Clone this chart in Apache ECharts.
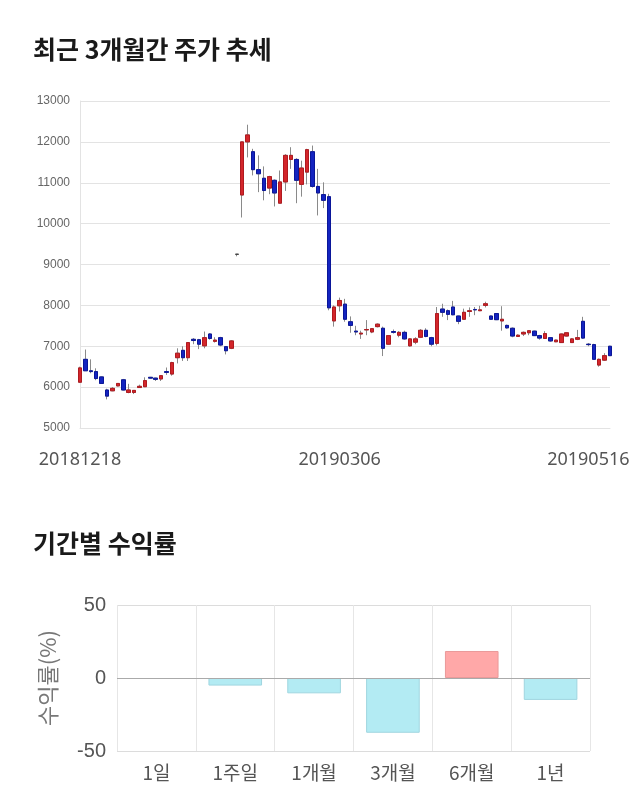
<!DOCTYPE html>
<html><head><meta charset="utf-8">
<script src="https://cdn.jsdelivr.net/npm/echarts@6/dist/echarts.min.js"></script>
<style>html,body{margin:0;padding:0;background:#fff}#c{width:640px;height:810px}</style>
</head><body><div id="c"></div>
<script>
const dates=['20181218','20181219','20181220','20181221','20181224','20181226','20181227','20181228',
'20190102','20190103','20190104','20190107','20190108','20190109','20190110','20190111','20190114','20190115',
'20190116','20190117','20190118','20190121','20190122','20190123','20190124','20190125','20190128','20190129',
'20190130','20190131','20190201','20190207','20190208','20190211','20190212','20190213','20190214','20190215',
'20190218','20190219','20190220','20190221','20190222','20190225','20190226','20190227','20190228','20190304',
'20190306','20190307','20190308','20190311','20190312','20190313','20190314','20190315','20190318','20190319',
'20190320','20190321','20190322','20190325','20190326','20190327','20190328','20190329','20190401','20190402',
'20190403','20190404','20190405','20190408','20190409','20190415','20190416','20190417','20190418','20190419',
'20190422','20190423','20190424','20190425','20190426','20190429','20190430','20190502','20190503','20190507',
'20190508','20190509','20190510','20190513','20190514','20190515','20190516','20190517','20190520','20190521','20190522'];
const labelDates=['20181218','20190306','20190516'];
const opens=[6120,6680,6400,6380,6250,5930,5910,6030,6180,5870,5870,5990,6010,6240,6220,6200,6380,6320,6720,6900,
6720,7170,7160,7010,7300,7120,7210,6990,6950,9250,10700,12000,11760,11320,11110,10870,11060,10500,11020,11570,
11570,10960,11260,11760,10910,10710,10660,7620,7990,8030,7600,7370,7300,7400,7350,7480,7440,7050,7360,7270,
7340,7010,7100,7220,7390,7210,7070,7910,7870,7960,7740,7660,7850,7900,7870,8000,7740,7800,7620,7510,
7440,7240,7300,7330,7370,7260,7190,7210,7110,7090,7250,7090,7170,7610,7050,7040,6540,6660,7000];
const closes=[6470,6400,6380,6210,6090,5780,5970,6090,5930,5930,5920,6020,6160,6220,6190,6280,6360,6600,6830,6720,
7090,7140,7050,7210,7190,7150,7030,6890,7130,9250,12000,12170,11320,11220,10810,11150,10750,11020,11670,11670,
11060,11360,11810,10910,10750,10570,7940,7960,8120,7660,7510,7350,7320,7410,7430,7540,6950,7260,7340,7340,
7180,7180,7180,7390,7240,7050,7800,7830,7780,7770,7610,7830,7870,7890,7890,8040,7660,7650,7660,7450,
7250,7270,7340,7380,7260,7200,7310,7130,7150,7300,7330,7180,7210,7200,7040,6680,6680,6770,6770];
const lows=[6100,6400,6340,6170,6080,5700,5900,6020,5920,5850,5830,5980,6000,6210,6150,6150,6300,6280,6580,6640,
6640,7050,6930,6950,7160,7090,7000,6800,6930,9200,10150,11620,11180,10770,10570,10720,10420,10500,10800,11340,
10500,10660,10960,10880,10200,10380,7880,7480,7850,7600,7330,7270,7180,7270,7320,7460,6760,7040,7310,7220,
7160,6990,7050,7200,7220,7000,7020,7720,7640,7760,7540,7650,7720,7760,7860,7950,7650,7640,7380,7430,
7220,7230,7250,7270,7250,7160,7180,7110,7100,7080,7240,7080,7150,7180,7000,6670,6500,6640,6760];
const highs=[6500,6920,6680,6460,6260,5960,6000,6100,6200,6080,5930,6060,6240,6250,6230,6290,6480,6620,6950,7000,
7100,7200,7180,7360,7320,7220,7230,7000,7150,9250,12000,12420,11830,11670,11400,11170,11080,11300,11700,11870,
11600,11540,11830,11910,11340,11010,10730,8000,8190,8160,7730,7500,7380,7640,7440,7560,7480,7270,7410,7370,
7380,7200,7220,7420,7440,7230,7960,8040,7900,8110,7750,7920,7950,7960,7990,8090,7750,7810,7980,7530,
7460,7290,7360,7390,7380,7280,7370,7220,7160,7310,7340,7200,7400,7720,7080,7060,6700,6830,7010];
const priceTicks={min:5000,max:13000,step:1000};

const periodCats=['1일','1주일','1개월','3개월','6개월','1년'];
const periodReturns=[0,-5.2,-10.5,-37.5,18.5,-15];
const returnTicks={min:-50,max:50,step:50};

const UP='#d3262b', UPB='#b01a1f', DN='#1424c0', DNB='#0a1699';
const wickData=dates.map((d,i)=>[opens[i],closes[i],lows[i],highs[i]]);
const bodyData=dates.map((d,i)=>[opens[i],closes[i],Math.min(opens[i],closes[i]),Math.max(opens[i],closes[i])]);
const barData=periodReturns.map(v=>({value:v,itemStyle:v===0?{color:'rgba(0,0,0,0)',borderWidth:0}:
  (v>0?{color:'#ffa8a8',borderColor:'#ea9a9a',borderWidth:1}:{color:'#b3ebf3',borderColor:'#a0d6e0',borderWidth:1})}));

const FONT='"Noto Sans CJK KR","Noto Sans",sans-serif';
const NUMF='"Liberation Sans",Arial,sans-serif';
const chart=echarts.init(document.getElementById('c'));
chart.setOption({
  animation:false,
  textStyle:{fontFamily:FONT},
  title:[
    {text:'최근 3개월간 주가 추세',left:28,top:32,textStyle:{fontSize:25,fontWeight:'bold',color:'#1a1a1a',fontFamily:FONT}},
    {text:'기간별 수익률',left:28,top:526,textStyle:{fontSize:25,fontWeight:'bold',color:'#1a1a1a',fontFamily:FONT}}
  ],
  grid:[
    {left:80,top:101,width:530,height:327},
    {left:117,top:605,width:473,height:146}
  ],
  xAxis:[
    {type:'category',gridIndex:0,data:dates,boundaryGap:false,
     axisLine:{show:true,lineStyle:{color:'#e3e3e3'}},axisTick:{show:false},
     axisLabel:{interval:(i,v)=>labelDates.indexOf(v)>=0,fontSize:18,color:'#555',margin:23,fontFamily:'"Noto Sans",sans-serif'},
     splitLine:{show:false}},
    {type:'category',gridIndex:1,data:periodCats,boundaryGap:true,
     axisLine:{show:false},axisTick:{show:true,length:10,lineStyle:{color:'#e6e6e6'}},
     axisLabel:{fontSize:19,color:'#555',margin:12},
     splitLine:{show:true,lineStyle:{color:'#e6e6e6'}}}
  ],
  yAxis:[
    {type:'value',gridIndex:0,min:priceTicks.min,max:priceTicks.max,interval:priceTicks.step,
     axisLine:{show:true,lineStyle:{color:'#e3e3e3'}},axisTick:{show:false},
     axisLabel:{fontSize:12,color:'#666',margin:10,fontFamily:NUMF,formatter:v=>String(v)},
     splitLine:{lineStyle:{color:'#e3e3e3'}}},
    {type:'value',gridIndex:1,min:returnTicks.min,max:returnTicks.max,interval:returnTicks.step,
     name:'수익률(%)',nameLocation:'middle',nameRotate:90,nameGap:58,
     nameTextStyle:{fontSize:22,color:'#777'},
     axisLine:{show:false},axisTick:{show:false},
     axisLabel:{fontSize:20,color:'#555',margin:11,fontFamily:NUMF},
     splitLine:{lineStyle:{color:'#dcdcdc'}}}
  ],
  series:[
    {type:'candlestick',xAxisIndex:0,yAxisIndex:0,data:wickData,barWidth:4,clip:true,
     itemStyle:{color:'rgba(0,0,0,0)',color0:'rgba(0,0,0,0)',borderColor:'#8a8a8a',borderColor0:'#8a8a8a',borderColorDoji:'#8a8a8a',borderWidth:1}},
    {type:'candlestick',xAxisIndex:0,yAxisIndex:0,data:bodyData,barWidth:4,clip:true,
     itemStyle:{color:UP,color0:DN,borderColor:UPB,borderColor0:DNB,borderColorDoji:'#444',borderWidth:1}},
    {type:'bar',xAxisIndex:1,yAxisIndex:1,data:barData,barWidth:'68%',
     markLine:{silent:true,symbol:'none',label:{show:false},lineStyle:{color:'#aaa',type:'solid',width:1},data:[{yAxis:0}]}}
  ]
});
</script></body></html>
